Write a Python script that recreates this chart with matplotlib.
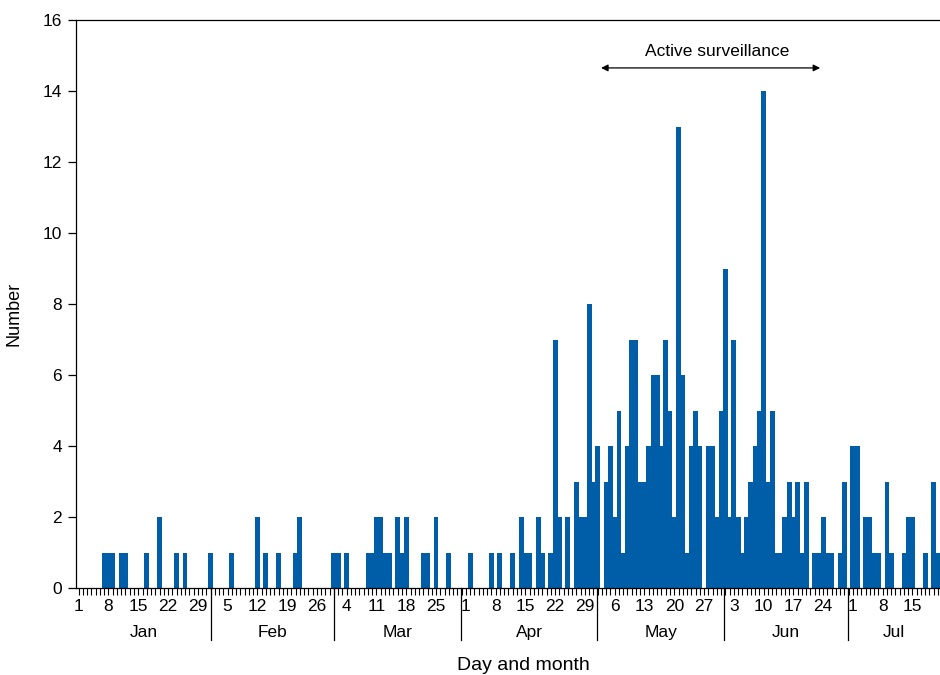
import datetime as dt
import matplotlib
matplotlib.use("Agg")
import matplotlib.pyplot as plt
from matplotlib.transforms import blended_transform_factory

# ---------------- data ----------------
year = 2012
onset_dates = [
    "01-07", "01-08", "01-09", "01-11", "01-12", "01-17", "01-20", "01-24", "01-26",
    "02-01", "02-06", "02-12", "02-14", "02-17", "02-21", "02-22",
    "03-01", "03-02", "03-04", "03-09", "03-10", "03-11", "03-12", "03-13", "03-14",
    "03-16", "03-17", "03-18", "03-22", "03-23", "03-25", "03-28",
    "04-02", "04-07", "04-09", "04-12", "04-14", "04-15", "04-16", "04-18", "04-19",
    "04-21", "04-22", "04-23", "04-25", "04-27", "04-28", "04-29", "04-30",
    "05-01", "05-02", "05-04", "05-05", "05-06", "05-07", "05-08", "05-09", "05-10",
    "05-11", "05-12", "05-13", "05-14", "05-15", "05-16", "05-17", "05-18", "05-19",
    "05-20", "05-21", "05-22", "05-23", "05-24", "05-25", "05-26", "05-28", "05-29",
    "05-30", "05-31",
    "06-01", "06-02", "06-03", "06-04", "06-05", "06-06", "06-07", "06-08", "06-09",
    "06-10", "06-11", "06-12", "06-13", "06-14", "06-15", "06-16", "06-17", "06-18",
    "06-19", "06-20", "06-22", "06-23", "06-24", "06-25", "06-26", "06-28", "06-29",
    "07-01", "07-02", "07-04", "07-05", "07-06", "07-07", "07-09", "07-10", "07-13",
    "07-14", "07-15", "07-18", "07-20", "07-21",
]
cases = [
    1, 1, 1, 1, 1, 1, 2, 1, 1,
    1, 1, 2, 1, 1, 1, 2,
    1, 1, 1, 1, 1, 2, 2, 1, 1,
    2, 1, 2, 1, 1, 2, 1,
    1, 1, 1, 1, 2, 1, 1, 2, 1,
    1, 7, 2, 2, 3, 2, 2, 8,
    3, 4, 3, 4, 2, 5, 1, 4, 7,
    7, 3, 3, 4, 6, 6, 4, 7, 5,
    2, 13, 6, 1, 4, 5, 4, 4, 4,
    2, 5,
    9, 2, 7, 2, 1, 2, 3, 4, 5,
    14, 3, 5, 1, 1, 2, 3, 2, 3,
    1, 3, 1, 1, 2, 1, 1, 1, 3,
    4, 4, 2, 2, 1, 1, 3, 1, 1,
    2, 2, 1, 3, 1,
]
month_names = ["Jan", "Feb", "Mar", "Apr", "May", "Jun", "Jul"]
y_ticks = [0, 2, 4, 6, 8, 10, 12, 14, 16]
surveillance_text = "Active surveillance"

# ---------------- derived ----------------
start = dt.date(year, 1, 1)
days = [(dt.date.fromisoformat(f"{year}-{s}") - start).days for s in onset_dates]
week_ticks = list(range(0, 197, 7))
week_labels = [str((start + dt.timedelta(days=d)).day) for d in week_ticks]

# ---------------- style ----------------
plt.rcParams["font.family"] = ["Liberation Sans", "DejaVu Sans"]
BLUE = "#005DA8"
FS = 12.5
FS_LAB = 13.5

fig = plt.figure(figsize=(9.4, 6.75), dpi=100)
ax = fig.add_axes([76 / 940, 87 / 675, 864 / 940, 568 / 675])

ax.bar(days, cases, width=1.15, color=BLUE, linewidth=0, align="center")

x0, x1 = -0.635, 202.47
ax.set_xlim(x0, x1)
ax.set_ylim(0, 16)

ax.spines["right"].set_visible(False)
for s in ("left", "bottom", "top"):
    ax.spines[s].set_linewidth(0.9)

ax.set_yticks(y_ticks)
ax.tick_params(axis="y", direction="out", length=6, width=0.9, pad=4, labelsize=FS)

ax.set_xticks(week_ticks)
ax.set_xticklabels(week_labels)
ax.set_xticks(range(0, 203), minor=True)
ax.tick_params(axis="x", which="both", direction="out", length=5, width=0.8,
               pad=3, labelsize=FS)

# month separators and names
trans = blended_transform_factory(ax.transData, ax.transAxes)
month_edges = [31.1, 60.0, 89.9, 121.9, 151.7, 180.8]
for e in month_edges:
    ax.plot([e, e], [0, -0.092], transform=trans, color="black", lw=0.9,
            clip_on=False)
bounds = [x0] + month_edges + [x1]
for i, name in enumerate(month_names):
    ax.text((bounds[i] + bounds[i + 1]) / 2, -0.0775, name, transform=trans,
            ha="center", va="center", fontsize=FS)

ax.text((523 - 76) / 864, (588 - 665) / 568, "Day and month", transform=ax.transAxes,
        ha="center", va="center", fontsize=FS_LAB + 0.5)
ax.text((14 - 76) / 864, (588 - 314) / 568, "Number", transform=ax.transAxes,
        ha="center", va="center", rotation=90, fontsize=FS_LAB - 0.5)

# active surveillance arrow
ax.annotate("", xy=(122.8, 14.65), xytext=(174.3, 14.65),
            arrowprops=dict(arrowstyle="<|-|>", color="black", lw=0.9,
                            mutation_scale=10, shrinkA=0, shrinkB=0))
ax.text((122.8 + 174.3) / 2 + 1.5, 15.1, surveillance_text, ha="center", va="center",
        fontsize=FS)

fig.savefig("out.png", dpi=100)
